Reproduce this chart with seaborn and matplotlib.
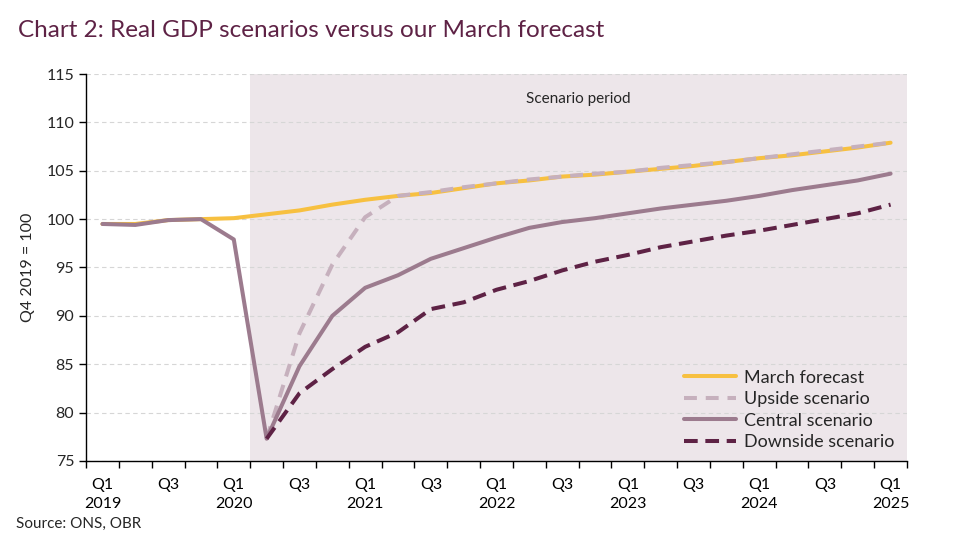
import numpy as np
import pandas as pd
import matplotlib
matplotlib.use("Agg")
import matplotlib.pyplot as plt
import seaborn as sns
from matplotlib.ticker import FixedLocator

# quarters Q1 2019 .. Q1 2025
quarters = [f"Q{q} {y}" for y in range(2019, 2026) for q in range(1, 5)][:25]

march = [99.5, 99.5, 99.9, 100.0, 100.1, 100.5, 100.9, 101.5, 102.0, 102.4,
         102.7, 103.2, 103.7, 104.0, 104.4, 104.6, 104.9, 105.2, 105.5, 105.9,
         106.3, 106.6, 107.0, 107.4, 107.9]
upside = [np.nan, np.nan, np.nan, np.nan, np.nan, 77.3, 88.2, 95.3, 100.2, 102.4,
          102.8, 103.3, 103.7, 104.1, 104.4, 104.7, 104.9, 105.3, 105.6, 105.9,
          106.3, 106.7, 107.1, 107.5, 107.9]
central = [99.5, 99.4, 99.9, 100.0, 97.9, 77.3, 84.8, 90.0, 92.9, 94.2,
           95.9, 97.0, 98.1, 99.1, 99.7, 100.1, 100.6, 101.1, 101.5, 101.9,
           102.4, 103.0, 103.5, 104.0, 104.7]
downside = [np.nan, np.nan, np.nan, np.nan, np.nan, 77.3, 82.0, 84.5, 86.8, 88.3,
            90.7, 91.4, 92.7, 93.6, 94.7, 95.6, 96.3, 97.1, 97.7, 98.3,
            98.8, 99.4, 100.0, 100.6, 101.5]

df = pd.DataFrame({"idx": np.arange(len(quarters)), "quarter": quarters,
                   "March forecast": march, "Upside scenario": upside,
                   "Central scenario": central, "Downside scenario": downside})

sns.set_theme(style="white")
plt.rcParams["font.family"] = ["Lato", "DejaVu Sans"]

fig = plt.figure(figsize=(9.6, 5.57), dpi=100)
ax = fig.add_axes([0.0896, 0.1724, 0.8552, 0.6947])

plum = "#5e2245"
ax.axvspan(4.5, 24.5, color="#ede6ea", zorder=0, lw=0)

styles = [
    ("March forecast", "#f7c040", None),
    ("Upside scenario", "#c6b0bd", (3.2, 2.2)),
    ("Central scenario", "#9c7b8e", None),
    ("Downside scenario", plum, (3.4, 1.9)),
]
for name, col, dash in styles:
    sns.lineplot(data=df, x="idx", y=name, ax=ax, color=col, lw=2.9, label=name)
    if dash is not None:
        ax.lines[-1].set_dashes(dash)

ax.set_xlim(-0.5, 24.5)
ax.set_ylim(75, 115)
ax.set_yticks(range(75, 116, 5))
ax.yaxis.grid(True, ls=(0, (4, 3)), color="#d6d6d6", lw=0.8)
ax.set_axisbelow(True)

labels = []
for q in quarters:
    qq, yy = q.split()
    if qq == "Q1":
        labels.append(f"Q1\n{yy}")
    elif qq == "Q3":
        labels.append("Q3")
    else:
        labels.append("")
major = [i for i in range(len(quarters)) if labels[i] != ""]
ax.set_xticks(major)
ax.set_xticklabels([labels[i] for i in major], fontsize=11.5, color="black",
                   linespacing=1.45)
ax.xaxis.set_minor_locator(FixedLocator(np.arange(-0.5, 24.6, 1)))
ax.tick_params(axis="x", which="major", length=0, pad=12)
ax.tick_params(axis="x", which="minor", length=5, width=1, color="black", direction="out", bottom=True)
ax.tick_params(axis="y", length=5, width=1, color="black", direction="out", left=True, labelsize=11.5)

for s in ["top", "right"]:
    ax.spines[s].set_visible(False)
for s in ["left", "bottom"]:
    ax.spines[s].set_color("black")
    ax.spines[s].set_linewidth(1)

ax.set_xlabel("")
ax.set_ylabel("Q4 2019 = 100", fontsize=11.5, labelpad=8)

ax.text(14.5, 112.4, "Scenario period", ha="center", va="center", fontsize=11)

ax.legend(loc="lower right", bbox_to_anchor=(0.995, 0.005), frameon=False,
          fontsize=13, handlelength=2.9, labelspacing=0.3, borderaxespad=0.1,
          handletextpad=0.4)

fig.text(0.019, 0.945, "Chart 2: Real GDP scenarios versus our March forecast",
         fontsize=17.5, color=plum, va="center", ha="left")
fig.text(0.017, 0.06, "Source: ONS, OBR", fontsize=11, va="center", ha="left")

fig.savefig("out.png", dpi=100)
